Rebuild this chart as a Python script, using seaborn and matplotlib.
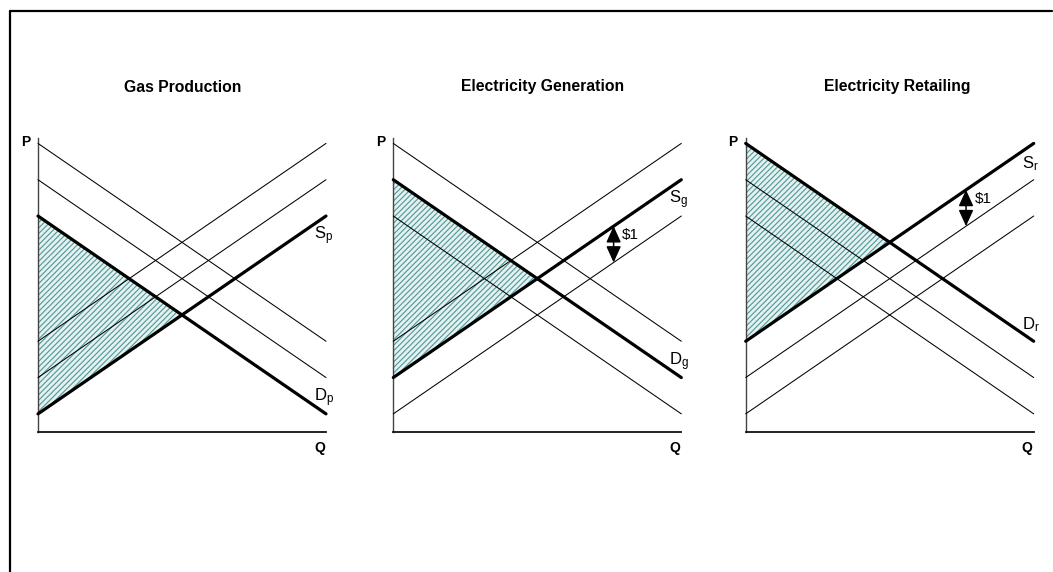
import numpy as np
import matplotlib
matplotlib.use("Agg")
import matplotlib.pyplot as plt
import seaborn as sns

# ---- data ----
panel_titles = ["Gas Production", "Electricity Generation", "Electricity Retailing"]
subscripts = ["p", "g", "r"]
demand_intercepts = [5.95, 6.95, 7.95]   # $ at Q = 0
supply_intercepts = [0.5, 1.5, 2.5]      # $ at Q = 0
slope = 0.545                            # $ per unit Q
q_end = 10.0
thick_index = [0, 1, 2]                  # which curve is the market's own curve
arrow_q = [None, 7.65, 7.65]             # $1 marker position
tax = 1.0

sns.set_style("white")
plt.rcParams["font.family"] = ["Liberation Sans", "DejaVu Sans"]
plt.rcParams["text.color"] = "black"
plt.rcParams["mathtext.fontset"] = "custom"
plt.rcParams["mathtext.rm"] = "Liberation Sans"
plt.rcParams["mathtext.it"] = "Liberation Sans"
plt.rcParams["hatch.linewidth"] = 0.8

W, H = 1053, 572
fig = plt.figure(figsize=(W / 100, H / 100), dpi=100)
fig.patch.set_facecolor("white")

# outer frame (left and top edges visible)
fig.add_artist(plt.Line2D([10 / W, 10 / W], [0, 1 - 11 / H], color="black", lw=1.6))
fig.add_artist(plt.Line2D([10 / W, 1052 / W], [1 - 11 / H, 1 - 11 / H], color="black", lw=1.6))

ax_left_px = [38, 393.3, 745.7]
ax_bottom_px = 432
ax_w_px, ax_h_px = 288, 294
title_x_px = [183, 543, 897]
ymax = ax_h_px / 36.3

q = np.array([0.0, q_end])
for i in range(3):
    ax = fig.add_axes([ax_left_px[i] / W, (H - ax_bottom_px) / H, ax_w_px / W, ax_h_px / H])
    ax.set_xlim(0, q_end)
    ax.set_ylim(0, ymax)
    ax.set_xticks([])
    ax.set_yticks([])
    for s in ["top", "right"]:
        ax.spines[s].set_visible(False)
    ax.spines["left"].set_color("#444444")
    ax.spines["left"].set_linewidth(1.0)
    ax.spines["bottom"].set_color("#111111")
    ax.spines["bottom"].set_linewidth(1.3)
    ax.patch.set_alpha(0)

    k = thick_index[i]
    d0 = demand_intercepts[k]
    s0 = supply_intercepts[k]
    qe = (d0 - s0) / (2 * slope)
    pe = d0 - slope * qe
    ax.fill([0, qe, 0], [d0, pe, s0], facecolor="#e4f1f0", edgecolor="#4e9896",
            hatch="//////", lw=0, zorder=1)

    for j in range(3):
        lw = 2.3 if j == k else 0.75
        sns.lineplot(x=q, y=demand_intercepts[j] - slope * q, ax=ax, color="black",
                     linewidth=lw, clip_on=False, zorder=3)
        sns.lineplot(x=q, y=supply_intercepts[j] + slope * q, ax=ax, color="black",
                     linewidth=lw, clip_on=False, zorder=3)

    sub = subscripts[i]
    ax.text(9.58, s0 + slope * q_end - 0.55, r"S$_\mathregular{" + sub + "}$",
            fontsize=12, ha="left", va="center", color="black")
    ax.text(9.58, d0 - slope * q_end + 0.45, r"D$_\mathregular{" + sub + "}$",
            fontsize=12, ha="left", va="center", color="black")

    if arrow_q[i] is not None:
        qa = arrow_q[i]
        ptop = s0 + slope * qa
        ax.annotate("", xy=(qa, ptop - tax), xytext=(qa, ptop),
                    arrowprops=dict(arrowstyle="<|-|>,head_length=0.55,head_width=0.25",
                                    color="black", lw=1.1, mutation_scale=18,
                                    shrinkA=0, shrinkB=0), zorder=4)
        ax.text(qa + 0.3, ptop - 0.24, "$1", fontsize=11, ha="left", va="center",
                parse_math=False, color="black")

    # axis letters
    fig.text((ax_left_px[i] - 8) / W, 1 - 141.7 / H, "P", fontsize=10, fontweight="bold",
             ha="right", va="center", color="black")
    fig.text((ax_left_px[i] + ax_w_px - 1) / W, 1 - 448 / H, "Q", fontsize=10,
             fontweight="bold", ha="right", va="center", color="black")
    fig.text(title_x_px[i] / W, 1 - 87 / H, panel_titles[i], fontsize=11.3,
             fontweight="bold", ha="center", va="center", color="black")

fig.savefig("out.png", dpi=100, facecolor="white")
